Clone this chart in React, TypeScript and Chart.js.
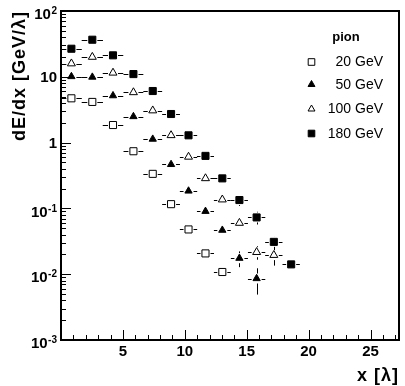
import React, { useEffect, useRef } from "react";
import { Chart, registerables } from "chart.js";

Chart.register(...registerables);

// ---- data ----
const xBins = [0.84, 2.53, 4.2, 5.85, 7.41, 8.89, 10.3, 11.67, 13.03, 14.41, 15.8, 17.19, 18.59];
const xHalfWidths = [0.84, 0.86, 0.83, 0.8, 0.76, 0.72, 0.7, 0.69, 0.68, 0.69, 0.7, 0.7, 0.7];

const seriesLabels = ["20 GeV", "50 GeV", "100 GeV", "180 GeV"];

const pion20 = [4.71, 4.15, 1.85, 0.739, 0.335, 0.116, 0.0479, 0.0207, 0.0108];
const pion20Err = [0, 0, 0, 0, 0, 0, 0, 0, 0.001];

const pion50 = [10.1, 9.9, 5.17, 2.49, 1.13, 0.466, 0.184, 0.0904, 0.0467, 0.0175, 0.0086];
const pion50Err = [0, 0, 0, 0, 0, 0, 0, 0, 0.003, 0.0047, 0.0037];

const pion100 = [15.9, 20.0, 11.5, 5.8, 3.07, 1.29, 0.607, 0.286, 0.136, 0.06, 0.0216, 0.0195];
const pion100Err = [0, 0, 0, 0, 0, 0, 0, 0, 0, 0.006, 0.005, 0.006];

const pion180 = [26.7, 36.6, 21.2, 11.0, 6.08, 2.72, 1.29, 0.628, 0.286, 0.134, 0.0729, 0.031, 0.0141];
const pion180Err = [0, 0, 0, 0, 0, 0, 0, 0, 0.02, 0.025, 0.016, 0.006, 0.002];

const yTickExponents = [-3, -2, -1, 0, 1, 2];
const xTickLabels = [5, 10, 15, 20, 25];

const FONT = '"Liberation Sans", Arial, Helvetica, sans-serif';

type Series = {
  label: string;
  values: number[];
  errs: number[];
  style: "rect" | "triangle";
  filled: boolean;
  radius: number;
};

const series: Series[] = [
  { label: seriesLabels[0], values: pion20, errs: pion20Err, style: "rect", filled: false, radius: 5 },
  { label: seriesLabels[1], values: pion50, errs: pion50Err, style: "triangle", filled: true, radius: 4.2 },
  { label: seriesLabels[2], values: pion100, errs: pion100Err, style: "triangle", filled: false, radius: 4.6 },
  { label: seriesLabels[3], values: pion180, errs: pion180Err, style: "rect", filled: true, radius: 5 },
];

const errorBarPlugin = {
  id: "errorBars",
  beforeDatasetsDraw(chart: any) {
    const ctx = chart.ctx;
    const xs = chart.scales.x;
    const ys = chart.scales.y;
    ctx.save();
    ctx.strokeStyle = "#000";
    ctx.lineWidth = 1;
    series.forEach((s, di) => {
      const meta = chart.getDatasetMeta(di);
      s.values.forEach((v, i) => {
        const el = meta.data[i];
        if (!el) return;
        const px = el.x;
        const py = Math.round(el.y) + 0.5;
        const gap = 5;
        const l = xs.getPixelForValue(xBins[i] - xHalfWidths[i]);
        const r = xs.getPixelForValue(xBins[i] + xHalfWidths[i]);
        ctx.beginPath();
        if (px - gap > l) {
          ctx.moveTo(l, py);
          ctx.lineTo(px - gap, py);
        }
        if (px + gap < r) {
          ctx.moveTo(px + gap, py);
          ctx.lineTo(r, py);
        }
        const e = s.errs[i] || 0;
        if (e > 0) {
          const t = ys.getPixelForValue(v + e);
          const b = ys.getPixelForValue(Math.max(v - e, 1e-4));
          const cx = Math.round(px) + 0.5;
          if (el.y - gap > t) {
            ctx.moveTo(cx, t);
            ctx.lineTo(cx, el.y - gap);
          }
          if (el.y + gap < b) {
            ctx.moveTo(cx, el.y + gap);
            ctx.lineTo(cx, b);
          }
        }
        ctx.stroke();
      });
    });
    ctx.restore();
  },
};

function drawMarker(ctx: CanvasRenderingContext2D, s: Series, x: number, y: number) {
  ctx.save();
  ctx.lineWidth = 1;
  ctx.strokeStyle = "#000";
  ctx.fillStyle = s.filled ? "#000" : "#fff";
  ctx.beginPath();
  if (s.style === "rect") {
    const h = 3.3;
    ctx.rect(x - h, y - h, 2 * h, 2 * h);
  } else {
    const r = 4;
    ctx.moveTo(x, y - r);
    ctx.lineTo(x + 0.866 * r, y + 0.5 * r);
    ctx.lineTo(x - 0.866 * r, y + 0.5 * r);
    ctx.closePath();
  }
  ctx.fill();
  ctx.stroke();
  ctx.restore();
}

const framePlugin = {
  id: "rootFrame",
  afterDraw(chart: any) {
    const ctx = chart.ctx;
    const { left, right, top, bottom } = chart.chartArea;
    const xs = chart.scales.x;
    const ys = chart.scales.y;
    ctx.save();
    // ticks
    ctx.strokeStyle = "#000";
    ctx.lineWidth = 1;
    ctx.beginPath();
    for (let e = -3; e <= 2; e++) {
      for (let k = 1; k <= 9; k++) {
        const v = k * Math.pow(10, e);
        if (v > 100.0001) break;
        const py = Math.round(ys.getPixelForValue(v)) + 0.5;
        const len = k === 1 ? 10 : 5;
        ctx.moveTo(left, py);
        ctx.lineTo(left + len, py);
      }
    }
    for (let xv = 1; xv <= 27; xv++) {
      const px = Math.round(xs.getPixelForValue(xv)) + 0.5;
      if (px >= right - 1) break;
      const len = xv % 5 === 0 ? 10 : 5;
      ctx.moveTo(px, bottom);
      ctx.lineTo(px, bottom - len);
    }
    ctx.stroke();
    // frame
    ctx.lineWidth = 2;
    ctx.strokeRect(left, top, right - left, bottom - top);

    ctx.fillStyle = "#000";
    // y tick labels
    const rx = 57;
    yTickExponents.forEach((ex) => {
      const py = ys.getPixelForValue(Math.pow(10, ex));
      ctx.textAlign = "right";
      ctx.textBaseline = "middle";
      if (ex === 0 || ex === 1) {
        ctx.font = `bold 15px ${FONT}`;
        ctx.fillText(ex === 0 ? "1" : "10", rx, py + 1.5);
      } else {
        const sup = String(ex);
        ctx.font = `bold 10px ${FONT}`;
        const sw = ctx.measureText(sup).width;
        ctx.fillText(sup, rx, py + 0.5);
        ctx.font = `bold 15px ${FONT}`;
        ctx.fillText("10", rx - sw - 0.5, py + 4);
      }
    });
    // x tick labels
    ctx.font = `bold 15px ${FONT}`;
    ctx.textAlign = "center";
    ctx.textBaseline = "middle";
    xTickLabels.forEach((xv) => {
      ctx.fillText(String(xv), xs.getPixelForValue(xv), bottom + 12);
    });

    // axis titles
    ctx.font = `bold 18px ${FONT}`;
    (ctx as any).letterSpacing = "1px";
    ctx.textAlign = "right";
    ctx.textBaseline = "alphabetic";
    ctx.fillText("x [\u03bb]", right, 381);
    ctx.save();
    ctx.translate(25, top);
    ctx.rotate(-Math.PI / 2);
    ctx.fillText("dE/dx [GeV/\u03bb]", 0, 0);
    ctx.restore();
    (ctx as any).letterSpacing = "0px";

    // legend
    ctx.font = `bold 13px ${FONT}`;
    ctx.textAlign = "center";
    ctx.textBaseline = "middle";
    ctx.fillText("pion", 346, 37.5);
    const rowsY = [62, 84.5, 109, 133.5];
    ctx.font = `14px ${FONT}`;
    series.forEach((s, i) => {
      drawMarker(ctx, s, 311.5, rowsY[i]);
      ctx.fillStyle = "#000";
      ctx.textAlign = "right";
      ctx.textBaseline = "middle";
      ctx.fillText(s.label, 383, rowsY[i] + 0.5);
    });
    ctx.restore();
  },
};

export default function App() {
  const ref = useRef<HTMLCanvasElement | null>(null);

  useEffect(() => {
    if (!ref.current) return;
    const chart = new Chart(ref.current, {
      type: "scatter",
      data: {
        datasets: series.map((s) => ({
          label: s.label,
          data: s.values.map((v, i) => ({ x: xBins[i], y: v })),
          pointStyle: s.style,
          pointRadius: s.radius,
          pointHoverRadius: s.radius,
          backgroundColor: s.filled ? "#000" : "#fff",
          borderColor: "#000",
          borderWidth: 1,
          showLine: false,
        })),
      },
      options: {
        animation: false,
        responsive: false,
        events: [],
        layout: { padding: { top: 11, right: 1, left: 0, bottom: 0 } },
        plugins: { legend: { display: false }, tooltip: { enabled: false } },
        scales: {
          x: {
            type: "linear",
            min: 0,
            max: 27.3,
            ticks: { display: false },
            grid: { display: false },
            border: { display: false },
            afterFit: (s: any) => {
              s.height = 46;
            },
          },
          y: {
            type: "logarithmic",
            min: 1e-3,
            max: 100,
            ticks: { display: false },
            grid: { display: false },
            border: { display: false },
            afterFit: (s: any) => {
              s.width = 61;
            },
          },
        },
      },
      plugins: [errorBarPlugin, framePlugin],
    } as any);
    return () => chart.destroy();
  }, []);

  return (
    <div style={{ position: "fixed", left: 0, top: 0, width: 405, height: 386, background: "#fff" }}>
      <canvas ref={ref} width={405} height={386} style={{ display: "block", width: 405, height: 386 }} />
    </div>
  );
}
